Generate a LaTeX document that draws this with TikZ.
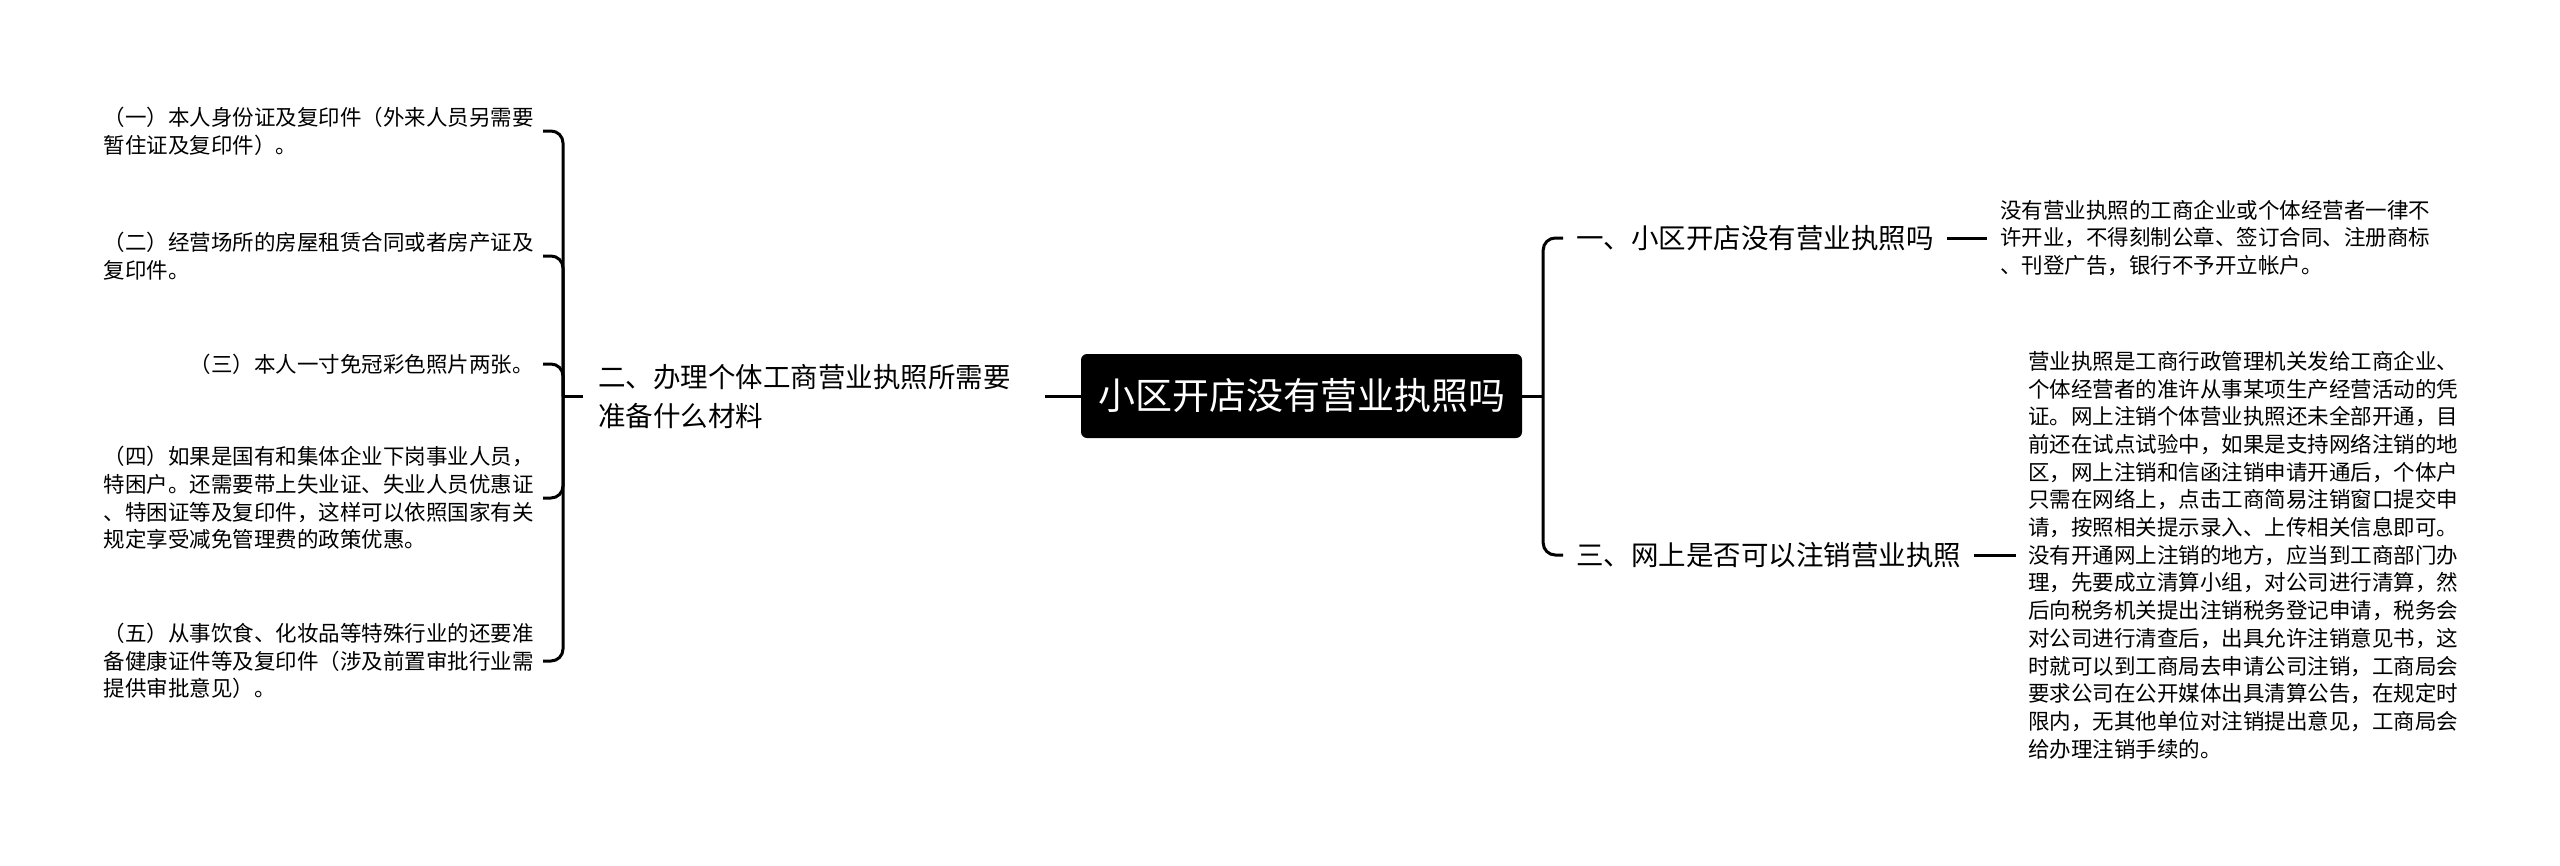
\documentclass[tikz,border=0pt]{standalone}
\usepackage{fontspec}
\setmainfont{Noto Sans CJK SC}
\begin{document}
\begin{tikzpicture}[x=1pt,y=-1pt,
  edge/.style={line width=3pt,draw=black},
  redge/.style={line width=3pt,draw=black,rounded corners=12pt},
  leaf/.style={inner xsep=9pt,inner ysep=0pt,align=left,text=black,font=\fontsize{21.5}{27.7}\selectfont},
  branch/.style={inner xsep=13pt,inner ysep=0pt,align=left,text=black,font=\fontsize{27.5}{39}\selectfont},
  rootbox/.style={fill=black,rounded corners=6pt,minimum width=441pt,minimum height=84pt,inner sep=0pt,text=white,font=\fontsize{37}{44}\selectfont}]
\useasboundingbox[fill=white] (0,0) rectangle (2560,865);
% root
\node[rootbox] (root) at (1301.5,396) {小区开店没有营业执照吗};
% left branch
\node[branch,anchor=west,inner xsep=15pt,text width=432pt] (lb) at (583,396) {二、办理个体工商营业执照所需要\\准备什么材料};
\coordinate (lj) at ([xshift=-20pt]lb.west);
\node[leaf,anchor=east] (i1) at (543,131) {（一）本人身份证及复印件（外来人员另需要\\暂住证及复印件）。};
\node[leaf,anchor=east] (i2) at (543,256) {（二）经营场所的房屋租赁合同或者房产证及\\复印件。};
\node[leaf,anchor=east] (i3) at (543,364) {（三）本人一寸免冠彩色照片两张。};
\node[leaf,anchor=east] (i4) at (543,498) {（四）如果是国有和集体企业下岗事业人员，\\特困户。还需要带上失业证、失业人员优惠证\\、特困证等及复印件，这样可以依照国家有关\\规定享受减免管理费的政策优惠。};
\node[leaf,anchor=east] (i5) at (543,661) {（五）从事饮食、化妆品等特殊行业的还要准\\备健康证件等及复印件（涉及前置审批行业需\\提供审批意见）。};
% right branches
\coordinate (rj) at ([xshift=21pt]root.east);
\node[branch,anchor=west] (n1) at (1563,238) {一、小区开店没有营业执照吗};
\node[branch,anchor=west] (n3) at (1563,555) {三、网上是否可以注销营业执照};
\node[leaf,anchor=west,inner xsep=13pt] (l1) at (1987,238) {没有营业执照的工商企业或个体经营者一律不\\许开业，不得刻制公章、签订合同、注册商标\\、刊登广告，银行不予开立帐户。};
\node[leaf,anchor=west,inner xsep=12pt] (l3) at (2016,555) {营业执照是工商行政管理机关发给工商企业、\\个体经营者的准许从事某项生产经营活动的凭\\证。网上注销个体营业执照还未全部开通，目\\前还在试点试验中，如果是支持网络注销的地\\区，网上注销和信函注销申请开通后，个体户\\只需在网络上，点击工商简易注销窗口提交申\\请，按照相关提示录入、上传相关信息即可。\\没有开通网上注销的地方，应当到工商部门办\\理，先要成立清算小组，对公司进行清算，然\\后向税务机关提出注销税务登记申请，税务会\\对公司进行清查后，出具允许注销意见书，这\\时就可以到工商局去申请公司注销，工商局会\\要求公司在公开媒体出具清算公告，在规定时\\限内，无其他单位对注销提出意见，工商局会\\给办理注销手续的。};
% connectors
\draw[edge] (root.west) -- (lb.east);
\draw[edge] (lb.west) -- (lj);
\draw[redge] (lj) |- (i1.east);
\draw[redge] (lj) |- (i2.east);
\draw[redge] (lj) |- (i3.east);
\draw[redge] (lj) |- (i4.east);
\draw[redge] (lj) |- (i5.east);
\draw[edge] (root.east) -- (rj);
\draw[redge] (rj) |- (n1.west);
\draw[redge] (rj) |- (n3.west);
\draw[edge] (n1.east) -- (l1.west);
\draw[edge] (n3.east) -- (l3.west);
\end{tikzpicture}
\end{document}
